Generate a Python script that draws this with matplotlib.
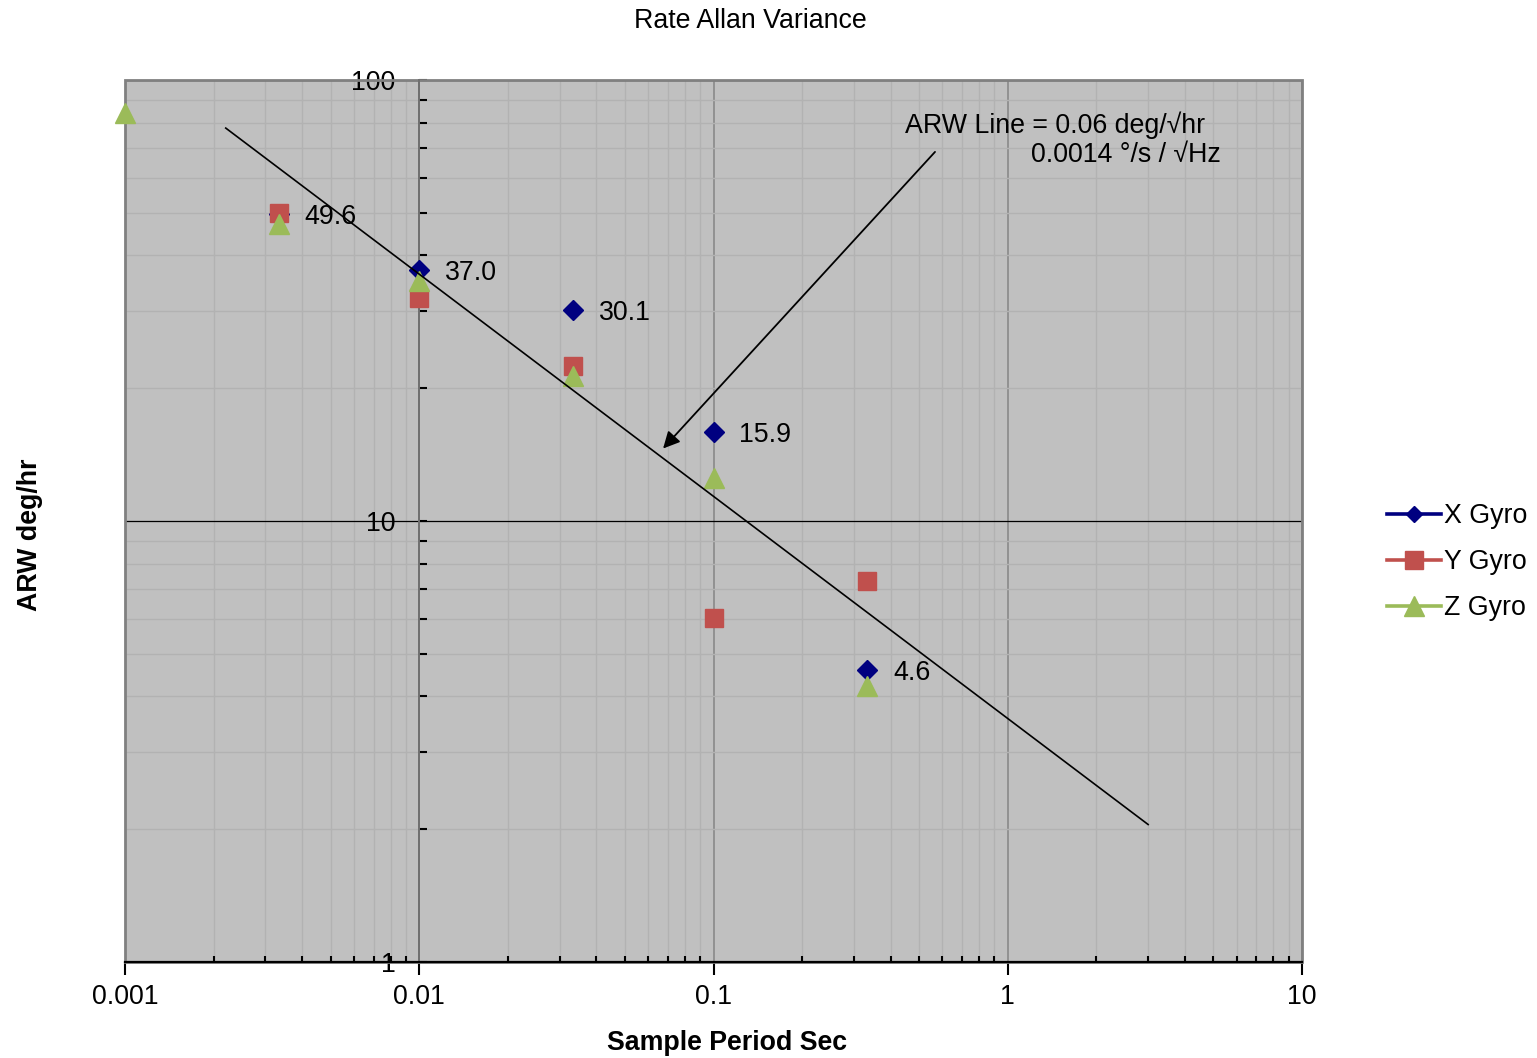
import numpy as np
import matplotlib
matplotlib.use('Agg')
import matplotlib.pyplot as plt
from matplotlib.lines import Line2D
from matplotlib.patches import Rectangle

plt.rcParams['font.family'] = ['Liberation Sans', 'DejaVu Sans']
FS = 19.3

# sample period (s)
tau = [0.001, 0.00333, 0.01, 0.0333, 0.1, 0.333]
# ARW deg/hr (nan = no point)
x_gyro = [np.nan, 49.6, 37.0, 30.1, 15.9, 4.6]
y_gyro = [np.nan, 49.9, 32.0, 22.5, 6.03, 7.31]
z_gyro = [84.2, 47.2, 35.0, 21.3, 12.5, 4.23]
x_labels = ['', '49.6', '37.0', '30.1', '15.9', '4.6']

# ARW reference line end points
arw_tau = [0.0022, 3.0]
arw_val = [77.8, 2.05]

xticks = [0.001, 0.01, 0.1, 1, 10]
xticklabels = ['0.001', '0.01', '0.1', '1', '10']
yticks = [1, 10, 100]
yticklabels = ['1', '10', '100']

fig = plt.figure(figsize=(15.37, 10.58), dpi=100)
ax = fig.add_axes([125/1537, 1-962/1058, (1302-125)/1537, (962-80)/1058])
ax.set_facecolor('#C0C0C0')
ax.set_xscale('log')
ax.set_yscale('log')
ax.set_xlim(0.001, 10)
ax.set_ylim(1, 100)

# grid
ax.grid(which='minor', axis='both', color='#B2B2B2', lw=1.0)
ax.xaxis.grid(which='major', color='#858585', lw=1.1)
ax.yaxis.grid(which='major', color='black', lw=0.9)
ax.set_axisbelow(True)

# frame
for s in ['top', 'right']:
    ax.spines[s].set_visible(False)
ax.add_patch(Rectangle((0, 0), 1, 1, transform=ax.transAxes, fill=False,
                       ec='#808080', lw=2, zorder=1.5, clip_on=False))
ax.spines['bottom'].set_color('black')
ax.spines['bottom'].set_linewidth(1.6)
ax.spines['left'].set_position(('data', 0.01))
ax.spines['left'].set_color('#707070')
ax.spines['left'].set_linewidth(1.4)

ax.set_xticks(xticks)
ax.set_xticklabels(xticklabels)
ax.set_yticks(yticks)
ax.set_yticklabels(yticklabels)
ax.tick_params(axis='x', which='major', direction='out', length=9, width=1.5,
               labelsize=FS, pad=7)
ax.tick_params(axis='x', which='minor', direction='in', length=4, width=1.5)
ax.tick_params(axis='y', which='major', direction='in', length=6, width=1.5,
               labelsize=FS, pad=17)
ax.tick_params(axis='y', which='minor', direction='in', length=6, width=1.5)
ax.yaxis.set_minor_formatter(matplotlib.ticker.NullFormatter())
ax.xaxis.set_minor_formatter(matplotlib.ticker.NullFormatter())

# data
ax.plot(tau, x_gyro, ls='none', marker='D', ms=10, color='#000080',
        zorder=4, clip_on=False)
ax.plot(tau, y_gyro, ls='none', marker='s', ms=13.5, color='#C0504D',
        zorder=4, clip_on=False)
ax.plot(tau, z_gyro, ls='none', marker='^', ms=14, color='#9BBB59',
        zorder=4, clip_on=False)

for t, v, lab in zip(tau, x_gyro, x_labels):
    if lab:
        ax.annotate(lab, (t, v), xytext=(18.5, -2), textcoords='offset points',
                    va='center', ha='left', fontsize=FS, zorder=5)

ax.plot(arw_tau, arw_val, color='black', lw=1.2, zorder=6)

ax.annotate('', xy=(0.0674, 14.6), xytext=(0.566, 68.7),
            arrowprops=dict(arrowstyle='-|>', color='black', lw=1.3,
                            mutation_scale=25, shrinkA=0, shrinkB=0),
            zorder=6)
ax.text(0.4477, 79.0, 'ARW Line = 0.06 deg/\u221ahr', fontsize=FS,
        ha='left', va='center', zorder=6)
ax.text(5.305, 67.5, '0.0014 \u00b0/s / \u221aHz', fontsize=FS,
        ha='right', va='center', zorder=6)

# titles
fig.text(750/1537, 1-21/1058, 'Rate Allan Variance', fontsize=FS,
         ha='center', va='center')
fig.text(727/1537, 1-1043/1058, 'Sample Period Sec', fontsize=FS,
         fontweight='bold', ha='center', va='center')
fig.text(30/1537, 1-535/1058, 'ARW deg/hr', fontsize=FS, fontweight='bold',
         rotation=90, ha='center', va='center')

# legend
handles = [
    Line2D([], [], color='#000080', lw=2.6, marker='D', ms=8),
    Line2D([], [], color='#C0504D', lw=2.6, marker='s', ms=13),
    Line2D([], [], color='#9BBB59', lw=2.6, marker='^', ms=14),
]
fig.legend(handles, ['X Gyro', 'Y Gyro', 'Z Gyro'], loc='center left',
           bbox_to_anchor=(1387/1537, 1-562/1058), frameon=False,
           fontsize=FS, handlelength=2.0, handletextpad=0.12,
           labelspacing=0.75, borderpad=0, borderaxespad=0)

fig.savefig('out.png', dpi=100)
